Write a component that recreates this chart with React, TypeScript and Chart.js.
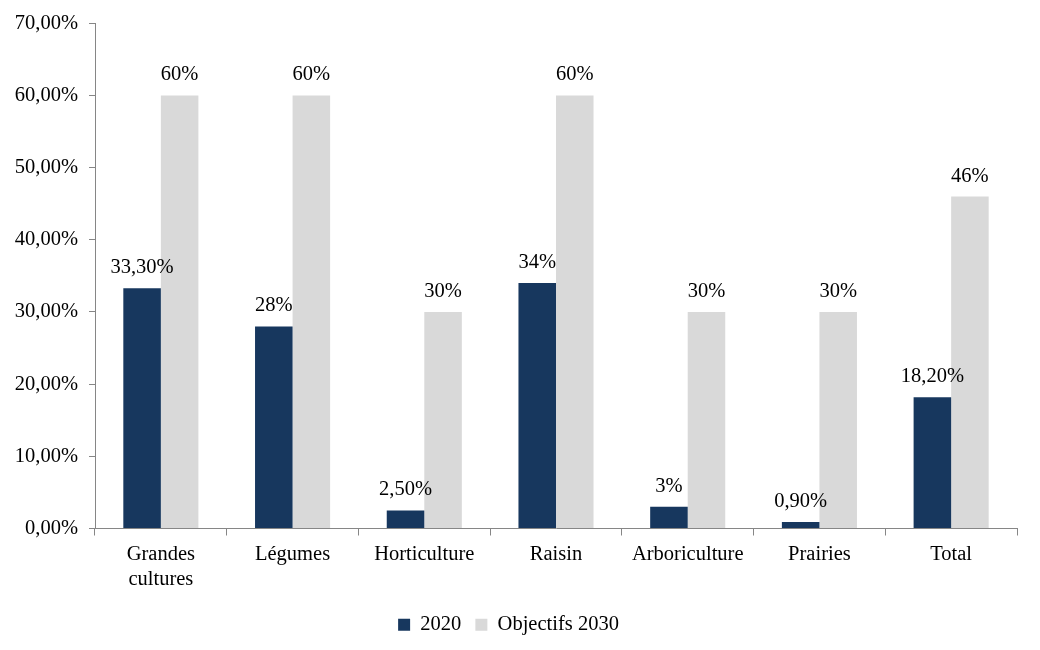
import React, { useEffect, useRef } from "react";
import { Chart, registerables } from "chart.js";

Chart.register(...registerables);

const categories: (string | string[])[] = [
  ["Grandes", "cultures"],
  "Légumes",
  "Horticulture",
  "Raisin",
  "Arboriculture",
  "Prairies",
  "Total",
];
const values2020 = [33.3, 28, 2.5, 34, 3, 0.9, 18.2];
const labels2020 = ["33,30%", "28%", "2,50%", "34%", "3%", "0,90%", "18,20%"];
const values2030 = [60, 60, 30, 60, 30, 30, 46];
const labels2030 = ["60%", "60%", "30%", "60%", "30%", "30%", "46%"];
const seriesNames = ["2020", "Objectifs 2030"];

const FONT = "'Liberation Serif', 'Times New Roman', serif";
const FS = 20.5;

const dataLabelPlugin = {
  id: "dataLabels",
  afterDatasetsDraw(chart: any) {
    const ctx = chart.ctx;
    ctx.save();
    ctx.font = `${FS}px ${FONT}`;
    ctx.fillStyle = "#000";
    ctx.textAlign = "center";
    ctx.textBaseline = "alphabetic";
    const texts = [labels2020, labels2030];
    chart.data.datasets.forEach((ds: any, i: number) => {
      const meta = chart.getDatasetMeta(i);
      meta.data.forEach((bar: any, j: number) => {
        ctx.fillText(texts[i][j], bar.x, bar.y - 15);
      });
    });
    ctx.restore();
  },
};

export default function App() {
  const ref = useRef<HTMLCanvasElement>(null);
  useEffect(() => {
    document.body.style.margin = "0";
    const chart = new Chart(ref.current!, {
      type: "bar",
      data: {
        labels: categories,
        datasets: [
          {
            label: seriesNames[0],
            data: values2020,
            backgroundColor: "#17375E",
            categoryPercentage: 0.57,
            barPercentage: 1,
          },
          {
            label: seriesNames[1],
            data: values2030,
            backgroundColor: "#D9D9D9",
            categoryPercentage: 0.57,
            barPercentage: 1,
          },
        ],
      },
      options: {
        animation: false,
        responsive: false,
        layout: { padding: { top: 22, right: 23, bottom: 5, left: 0 } },
        plugins: {
          legend: {
            position: "bottom",
            labels: {
              font: { family: FONT, size: FS },
              color: "#000",
              boxWidth: 12,
              boxHeight: 12,
              padding: 14,
            },
          },
          tooltip: { enabled: false },
        },
        scales: {
          x: {
            grid: {
              offset: true,
              drawOnChartArea: false,
              tickLength: 7,
              color: "#868686",
            },
            border: { color: "#868686" },
            ticks: {
              font: { family: FONT, size: FS },
              color: "#000",
              padding: 7,
              maxRotation: 0,
            },
            afterFit: (s: any) => {
              s.height = 72;
            },
          },
          y: {
            min: 0,
            max: 70,
            grid: {
              drawOnChartArea: false,
              tickLength: 6,
              color: "#868686",
            },
            border: { color: "#868686" },
            ticks: {
              stepSize: 10,
              font: { family: FONT, size: FS },
              color: "#000",
              padding: 11,
              callback: (v: any) => Number(v).toFixed(2).replace(".", ",") + "%",
            },
            afterFit: (s: any) => {
              s.width = 95;
            },
          },
        },
      },
      plugins: [dataLabelPlugin],
    } as any);
    return () => chart.destroy();
  }, []);
  return (
    <div style={{ width: 1040, height: 650, background: "#fff" }}>
      <canvas ref={ref} width={1040} height={650} />
    </div>
  );
}
